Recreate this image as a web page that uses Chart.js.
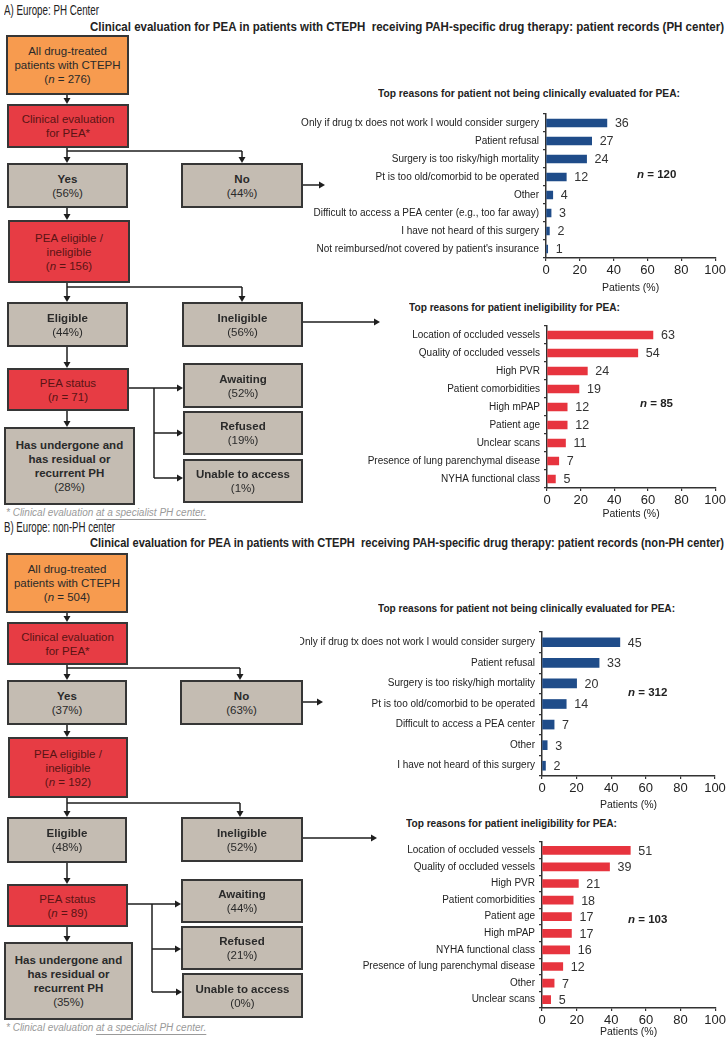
<!DOCTYPE html>
<html>
<head>
<meta charset="utf-8">
<script src="https://cdn.jsdelivr.net/npm/chart.js@4.4.1/dist/chart.umd.min.js"></script>
<style>
body { margin: 0; background: #fff; width: 728px; height: 1039px; position: relative; overflow: hidden; font-family: "Liberation Sans", Arial, sans-serif; color: #222; }
.txt { position: absolute; white-space: nowrap; transform-origin: 0 50%; }
.panel { font-size: 14.5px; line-height: 17px; }
.head { font-size: 12px; line-height: 16px; font-weight: bold; }
.ctitle { font-size: 11px; line-height: 14px; font-weight: bold; }
.nlab { font-size: 11.5px; line-height: 14px; font-weight: bold; }
.foot { font-size: 10px; line-height: 12px; font-style: italic; color: #9a9a9a; }
.foot u { text-decoration-color: #9a9a9a; text-underline-offset: 3px; }
.box { position: absolute; box-sizing: border-box; border: 2px solid #363636; display: flex; justify-content: center; align-items: center; text-align: center; font-size: 11.5px; line-height: 14px; color: #2a2a2a; }
.orange { background: #f79b4f; }
.red { background: #e73c44; color: #5a1414; }
.gray { background: #c4bcb2; }
canvas { position: absolute; left: 300px; }
svg { position: absolute; left: 0; top: 0; }
</style>
</head>
<body>
<svg id="links" width="728" height="1039"></svg>
<canvas id="chartNotEvalA"></canvas>
<canvas id="chartInelA"></canvas>
<canvas id="chartNotEvalB"></canvas>
<canvas id="chartInelB"></canvas>
<script>
// Flowchart numbers: [all treated, evaluated, eligible]
var countsA = [276, 156, 71];
var countsB = [504, 192, 89];
// Flowchart percentages: yes, no, eligible, ineligible, awaiting, refused, unable, undergone
var pctA = [56, 44, 44, 56, 52, 19, 1, 28];
var pctB = [37, 63, 48, 52, 44, 21, 0, 35];

// Bar charts
var reasonsNotEvalA = ["Only if drug tx does not work I would consider surgery", "Patient refusal", "Surgery is too risky/high mortality",
    "Pt is too old/comorbid to be operated", "Other", "Difficult to access a PEA center (e.g., too far away)",
    "I have not heard of this surgery", "Not reimbursed/not covered by patient's insurance"];
var notEvalA = [36, 27, 24, 12, 4, 3, 2, 1];

var reasonsInelA = ["Location of occluded vessels", "Quality of occluded vessels", "High PVR", "Patient comorbidities",
    "High mPAP", "Patient age", "Unclear scans", "Presence of lung parenchymal disease", "NYHA functional class"];
var inelA = [63, 54, 24, 19, 12, 12, 11, 7, 5];

var reasonsNotEvalB = ["Only if drug tx does not work I would consider surgery", "Patient refusal", "Surgery is too risky/high mortality",
    "Pt is too old/comorbid to be operated", "Difficult to access a PEA center", "Other", "I have not heard of this surgery"];
var notEvalB = [45, 33, 20, 14, 7, 3, 2];

var reasonsInelB = ["Location of occluded vessels", "Quality of occluded vessels", "High PVR", "Patient comorbidities",
    "Patient age", "High mPAP", "NYHA functional class", "Presence of lung parenchymal disease", "Other", "Unclear scans"];
var inelB = [51, 39, 21, 18, 17, 17, 16, 12, 7, 5];

var nRespA = [120, 85];
var nRespB = [312, 103];
var xTicks = [0, 20, 40, 60, 80, 100];

var REGULAR = '"Liberation Sans", Arial, sans-serif';
var NAVY = '#1f4c89';
var RED = '#e7343e';

function addText(cls, html, x, cy, fitW)
{
    var el = document.createElement('div');
    el.className = 'txt ' + cls;
    el.innerHTML = html;
    document.body.appendChild(el);
    var h = el.getBoundingClientRect().height;
    el.style.left = x + 'px';
    el.style.top = (cy - h / 2) + 'px';
    if (fitW) {
        var w = el.getBoundingClientRect().width;
        el.style.transform = 'scaleX(' + (fitW / w) + ')';
    }
    return el;
}

function addBox(cls, html, b)
{
    var el = document.createElement('div');
    el.className = 'box ' + cls;
    el.innerHTML = '<div>' + html + '</div>';
    el.style.left = b[0] + 'px';
    el.style.top = b[1] + 'px';
    el.style.width = b[2] + 'px';
    el.style.height = b[3] + 'px';
    document.body.appendChild(el);
}

var svg = document.getElementById('links');
function seg(x1, y1, x2, y2)
{
    var l = document.createElementNS('http://www.w3.org/2000/svg', 'line');
    l.setAttribute('x1', x1); l.setAttribute('y1', y1);
    l.setAttribute('x2', x2); l.setAttribute('y2', y2);
    l.setAttribute('stroke', '#1e1e1e');
    l.setAttribute('stroke-width', '1.5');
    svg.appendChild(l);
}
function arrow(x1, y1, x2, y2)
{
    var dx = x2 - x1, dy = y2 - y1;
    var len = Math.sqrt(dx * dx + dy * dy);
    var ux = dx / len, uy = dy / len;
    seg(x1, y1, x2 - ux * 5, y2 - uy * 5);
    var p = document.createElementNS('http://www.w3.org/2000/svg', 'polygon');
    var bx = x2 - ux * 6, by = y2 - uy * 6;
    p.setAttribute('points', x2 + ',' + y2 + ' ' + (bx - uy * 3.5) + ',' + (by + ux * 3.5) + ' ' + (bx + uy * 3.5) + ',' + (by - ux * 3.5));
    p.setAttribute('fill', '#1e1e1e');
    svg.appendChild(p);
}

// g: box rectangles plus the y positions of the connectors
function drawFlow(counts, pct, g)
{
    addBox('orange', 'All drug-treated<br>patients with CTEPH<br>(<i>n</i> = ' + counts[0] + ')', g.total);
    addBox('red', 'Clinical evaluation<br>for PEA*', g.evalQ);
    addBox('gray', '<b>Yes</b><br>(' + pct[0] + '%)', g.yes);
    addBox('gray', '<b>No</b><br>(' + pct[1] + '%)', g.no);
    addBox('red', 'PEA eligible /<br>ineligible<br>(<i>n</i> = ' + counts[1] + ')', g.eligQ);
    addBox('gray', '<b>Eligible</b><br>(' + pct[2] + '%)', g.elig);
    addBox('gray', '<b>Ineligible</b><br>(' + pct[3] + '%)', g.inelig);
    addBox('red', 'PEA status<br>(<i>n</i> = ' + counts[2] + ')', g.status);
    addBox('gray', '<b>Awaiting</b><br>(' + pct[4] + '%)', g.await);
    addBox('gray', '<b>Refused</b><br>(' + pct[5] + '%)', g.refused);
    addBox('gray', '<b>Unable to access</b><br>(' + pct[6] + '%)', g.unable);
    addBox('gray', '<b>Has undergone and<br>has residual or<br>recurrent PH</b><br>(' + pct[7] + '%)', g.undergone);

    var cx = 67, rx = g.branchX;
    arrow(cx, g.total[1] + g.total[3], cx, g.evalQ[1]);
    seg(cx, g.evalQ[1] + g.evalQ[3], cx, g.b1);
    seg(cx, g.b1, rx, g.b1);
    arrow(cx, g.b1, cx, g.yes[1]);
    arrow(rx, g.b1, rx, g.no[1]);
    arrow(g.no[0] + g.no[2], g.noArrow[0], g.noArrow[1], g.noArrow[0]);
    arrow(cx, g.yes[1] + g.yes[3], cx, g.eligQ[1]);
    seg(cx, g.eligQ[1] + g.eligQ[3], cx, g.b2);
    seg(cx, g.b2, rx, g.b2);
    arrow(cx, g.b2, cx, g.elig[1]);
    arrow(rx, g.b2, rx, g.inelig[1]);
    arrow(g.inelig[0] + g.inelig[2], g.inArrow[0], g.inArrow[1], g.inArrow[0]);
    arrow(cx, g.elig[1] + g.elig[3], cx, g.status[1]);
    arrow(cx, g.status[1] + g.status[3], cx, g.undergone[1]);
    var sx = g.splitX;
    seg(g.status[0] + g.status[2], g.s[0], sx, g.s[0]);
    seg(sx, g.s[0], sx, g.s[2]);
    arrow(sx, g.s[0], g.await[0], g.s[0]);
    arrow(sx, g.s[1], g.refused[0], g.s[1]);
    arrow(sx, g.s[2], g.unable[0], g.s[2]);
}

drawFlow(countsA, pctA, {
    total: [6, 35, 123, 60], evalQ: [7, 104, 122, 44], yes: [7, 163, 121, 45], no: [181, 163, 122, 45],
    eligQ: [8, 220, 122, 63], elig: [7, 302, 121, 45], inelig: [182, 302, 121, 45], status: [7, 368, 122, 43],
    await: [183, 363, 120, 45], refused: [183, 411, 120, 44], unable: [183, 459, 120, 44], undergone: [4, 427, 131, 78],
    branchX: 242, b1: 151, b2: 287, noArrow: [185, 325], inArrow: [322, 380], splitX: 154, s: [388, 433, 478]
});
drawFlow(countsB, pctB, {
    total: [6, 553, 122, 60], evalQ: [7, 622, 121, 43], yes: [7, 680, 120, 45], no: [180, 680, 123, 45],
    eligQ: [8, 737, 120, 61], elig: [7, 817, 120, 46], inelig: [181, 817, 122, 45], status: [7, 884, 121, 43],
    await: [181, 879, 122, 44], refused: [181, 926, 122, 44], unable: [182, 973, 121, 45], undergone: [4, 942, 129, 78],
    branchX: 240, b1: 668, b2: 803, noArrow: [702, 323], inArrow: [838, 377], splitX: 152, s: [904, 949, 992]
});

// Headings and notes
addText('panel', 'A) Europe: PH Center', 4, 10, 95);
addText('head', 'Clinical evaluation for PEA in patients with CTEPH&nbsp; receiving PAH-specific drug therapy: patient records (PH center)', 90, 27, 634);
addText('panel', 'B) Europe: non-PH center', 4, 527, 111);
addText('head', 'Clinical evaluation for PEA in patients with CTEPH&nbsp; receiving PAH-specific drug therapy: patient records (non-PH center)', 90, 543, 634);
addText('foot', '* Clinical evaluation <u>at a specialist PH center.</u>', 6, 513);
addText('foot', '* Clinical evaluation <u>at a specialist PH center.</u>', 6, 1028);

addText('ctitle', 'Top reasons for patient not being clinically evaluated for PEA:', 378, 93, 302);
addText('ctitle', 'Top reasons for patient ineligibility for PEA:', 409, 307, 211);
addText('ctitle', 'Top reasons for patient not being clinically evaluated for PEA:', 378, 608, 297);
addText('ctitle', 'Top reasons for patient ineligibility for PEA:', 406, 823, 211);

addText('nlab', '<i>n</i> = ' + nRespA[0], 637, 174);
addText('nlab', '<i>n</i> = ' + nRespA[1], 640, 403);
addText('nlab', '<i>n</i> = ' + nRespB[0], 628, 692);
addText('nlab', '<i>n</i> = ' + nRespB[1], 628, 919);

// Value printed at the end of each bar
var valueLabels = {
    id: 'valueLabels',
    afterDatasetsDraw: function (chart) {
        var ctx = chart.ctx;
        var meta = chart.getDatasetMeta(0);
        var vals = chart.data.datasets[0].data;
        ctx.save();
        ctx.font = '12.5px ' + REGULAR;
        ctx.fillStyle = '#333';
        ctx.textBaseline = 'middle';
        meta.data.forEach(function (bar, i) {
            ctx.fillText(String(vals[i]), bar.x + 8, bar.y + 1);
        });
        ctx.restore();
    }
};

function makeReasonChart(id, labels, values, color, thick, geo)
{
    var canvas = document.getElementById(id);
    var bottom = Math.min(1039, Math.round(geo.titleY + 7));
    var h = bottom - geo.top;
    canvas.width = 428;
    canvas.height = h;
    canvas.style.top = geo.top + 'px';
    canvas.style.width = '428px';
    canvas.style.height = h + 'px';
    var yW = geo.axisL - 300;
    var xH = h - (geo.areaBottom - geo.top);

    return new Chart(canvas, {
        type: 'bar',
        data: {
            labels: labels,
            datasets: [{ data: values, backgroundColor: color, barThickness: thick }]
        },
        options: {
            indexAxis: 'y',
            responsive: false,
            animation: false,
            layout: { padding: { top: geo.areaTop - geo.top, right: 728 - geo.axisR, left: 0, bottom: 0 } },
            plugins: { legend: { display: false }, tooltip: { enabled: false } },
            scales: {
                x: {
                    min: 0, max: 100,
                    afterBuildTicks: function (scale) {
                        scale.ticks = xTicks.map(function (v) { return { value: v }; });
                    },
                    afterFit: function (scale) { scale.height = xH; },
                    ticks: { font: { size: 13, family: REGULAR }, color: '#222', padding: 2, maxRotation: 0, autoSkip: false },
                    grid: { drawOnChartArea: false, tickLength: 3, color: '#333', lineWidth: 1.2 },
                    border: { color: '#333', width: 1.5 },
                    title: { display: true, text: 'Patients (%)', font: { size: 10.5, family: REGULAR }, color: '#222', padding: 0 }
                },
                y: {
                    afterFit: function (scale) { scale.width = yW; },
                    ticks: { font: { size: 10, family: REGULAR }, color: '#222', padding: 4, autoSkip: false },
                    grid: { drawOnChartArea: false, tickLength: 3, color: '#333', lineWidth: 1.2, offset: true },
                    border: { color: '#333', width: 1.5 }
                }
            }
        },
        plugins: [valueLabels]
    });
}

makeReasonChart('chartNotEvalA', reasonsNotEvalA, notEvalA, NAVY, 8,
    { top: 100, areaTop: 114, areaBottom: 258, titleY: 287, axisL: 546, axisR: 718 });
makeReasonChart('chartInelA', reasonsInelA, inelA, RED, 8,
    { top: 316, areaTop: 323, areaBottom: 488, titleY: 513, axisL: 547, axisR: 718 });
makeReasonChart('chartNotEvalB', reasonsNotEvalB, notEvalB, NAVY, 9,
    { top: 620, areaTop: 632, areaBottom: 776, titleY: 804, axisL: 542, axisR: 715 });
makeReasonChart('chartInelB', reasonsInelB, inelB, RED, 8,
    { top: 832, areaTop: 840, areaBottom: 1008, titleY: 1031, axisL: 542, axisR: 716 });
</script>
</body>
</html>
